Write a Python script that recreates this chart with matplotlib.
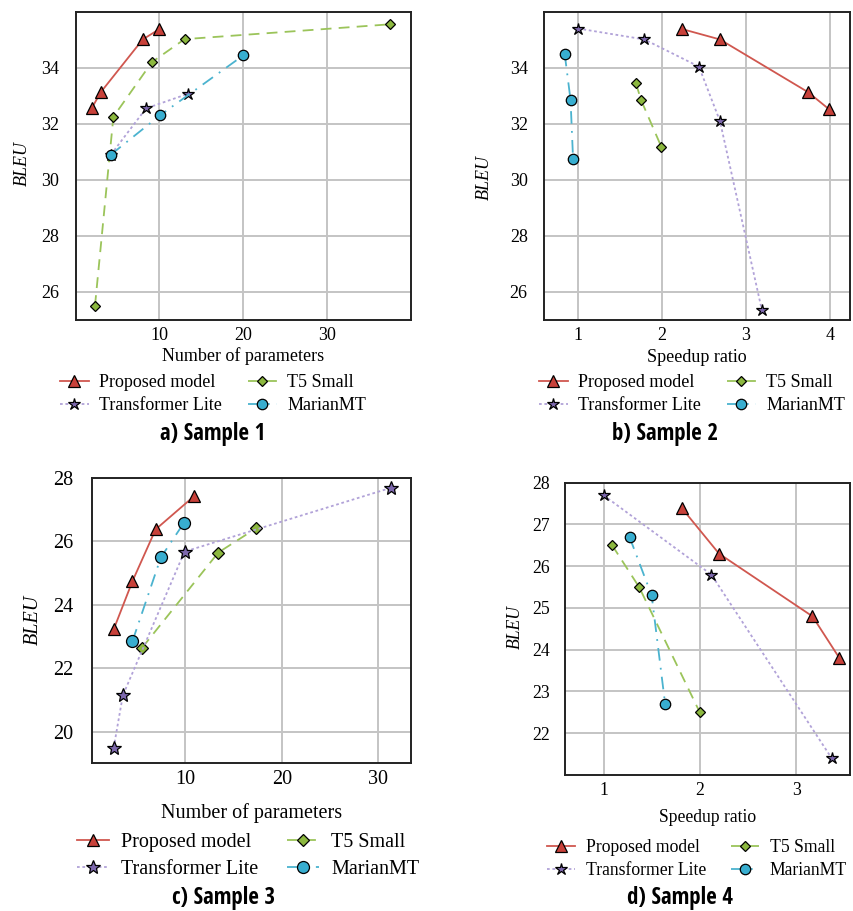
import matplotlib
matplotlib.use("Agg")
from matplotlib import pyplot as plt
from matplotlib import font_manager

plt.rcParams['font.family'] = ['Liberation Serif', 'DejaVu Serif']

# 数据
names = ["Proposed model", "T5 Small", "Transformer Lite", "MarianMT"]

# a) Sample 1: 参数量 vs BLEU
a_prop_x = [1.9, 3.0, 8.0, 10.0]
a_prop_y = [32.55, 33.13, 35.01, 35.38]
a_t5_x = [2.3, 4.5, 9.1, 13.0, 37.5]
a_t5_y = [25.5, 32.25, 34.2, 35.02, 35.55]
a_tl_x = [4.2, 8.4, 13.4]
a_tl_y = [30.9, 32.55, 33.07]
a_mm_x = [4.2, 10.1, 20.0]
a_mm_y = [30.9, 32.31, 34.44]

# b) Sample 2: 加速比 vs BLEU
b_prop_x = [2.24, 2.69, 3.74, 3.99]
b_prop_y = [35.38, 35.01, 33.13, 32.52]
b_t5_x = [1.69, 1.75, 1.99]
b_t5_y = [33.44, 32.85, 31.19]
b_tl_x = [1.0, 1.79, 2.44, 2.69, 3.19]
b_tl_y = [35.4, 35.01, 34.04, 32.1, 25.35]
b_mm_x = [0.84, 0.91, 0.94]
b_mm_y = [34.5, 32.85, 30.74]

# c) Sample 3
c_prop_x = [2.55, 4.5, 6.9, 10.9]
c_prop_y = [23.22, 24.74, 26.37, 27.42]
c_t5_x = [5.5, 13.4, 17.3]
c_t5_y = [22.64, 25.64, 26.4]
c_tl_x = [2.55, 3.5, 9.9, 31.3]
c_tl_y = [19.49, 21.14, 25.67, 27.68]
c_mm_x = [4.5, 7.45, 9.8]
c_mm_y = [22.85, 25.49, 26.56]

# d) Sample 4
d_prop_x = [1.81, 2.2, 3.17, 3.45]
d_prop_y = [27.4, 26.3, 24.8, 23.8]
d_t5_x = [1.09, 1.37, 2.0]
d_t5_y = [26.5, 25.5, 22.5]
d_tl_x = [1.0, 2.12, 3.37]
d_tl_y = [27.7, 25.8, 21.4]
d_mm_x = [1.27, 1.5, 1.64]
d_mm_y = [26.7, 25.3, 22.7]

W, H = 854, 911

styles = [
    dict(color="#d0574f", ls="-", marker="^", mfc="#c8413a", ms=8),
    dict(color="#9bc45a", ls=(0, (6, 4)), marker="D", mfc="#8cb83f", ms=5.5),
    dict(color="#b1a2d8", ls=(0, (1.5, 1.5)), marker="*", mfc="#7d68ad", ms=9),
    dict(color="#4bb3cf", ls=(0, (7, 4, 1, 4)), marker="o", mfc="#38aed0", ms=7.5),
]

# 标题用窄体粗字 (找得到就用)
installed = {f.name for f in font_manager.fontManager.ttflist}
cap_fams = [f for f in ["Liberation Sans Narrow", "DejaVu Sans Condensed",
                        "Noto Sans Condensed", "Open Sans Condensed",
                        "Roboto Condensed"] if f in installed]
cap_fams.append("DejaVu Sans")


def box(l, t, r, b):
    return [l / W, 1 - b / H, (r - l) / W, (b - t) / H]


fig = plt.figure(figsize=(8.54, 9.11), dpi=100)


def panel(rect, series, xlim, ylim, xticks, yticks, xlabel, caption,
          fs, ypad, ylab_xy, xlab_y, leg_xy, cap_xy, scale=1.0):
    ax = fig.add_axes(box(*rect))
    for (xs, ys), st, nm in zip(series, styles, names):
        ax.plot(xs, ys, color=st["color"], linestyle=st["ls"], linewidth=1.3,
                marker=st["marker"], markerfacecolor=st["mfc"],
                markeredgecolor="black", markeredgewidth=0.9,
                markersize=st["ms"] * scale, label=nm, zorder=3)
    ax.set_xlim(xlim)
    ax.set_ylim(ylim)
    ax.set_xticks(xticks)
    ax.set_yticks(yticks)
    ax.grid(color="#c4c4c4", linewidth=1.4)
    ax.set_axisbelow(True)
    ax.tick_params(axis="x", length=0, labelsize=fs, pad=5)
    ax.tick_params(axis="y", length=0, labelsize=fs, pad=ypad)
    for sp in ax.spines.values():
        sp.set_linewidth(1.4)
        sp.set_color("#222222")
    fig.text(ylab_xy[0] / W, 1 - ylab_xy[1] / H, "BLEU", rotation=90,
             style="italic", fontsize=fs, ha="center", va="center")
    cx = (rect[0] + rect[2]) / 2
    fig.text(cx / W, 1 - xlab_y / H, xlabel, fontsize=fs,
             ha="center", va="center")
    h, lb = ax.get_legend_handles_labels()
    order = [0, 2, 1, 3]
    fig.legend([h[i] for i in order], [lb[i] for i in order], ncol=2,
               loc="center",
               bbox_to_anchor=(leg_xy[0] / W, 1 - leg_xy[1] / H),
               frameon=False, fontsize=fs, handlelength=1.6,
               columnspacing=1.4, labelspacing=0.35, handletextpad=0.6,
               borderpad=0, borderaxespad=0)
    fig.text(cap_xy[0] / W, 1 - cap_xy[1] / H, caption, fontsize=16.5,
             fontweight="bold", fontstretch="condensed",
             family=cap_fams, ha="center", va="center")
    return ax


panel((75.7, 11.7, 410.7, 320),
      [(a_prop_x, a_prop_y), (a_t5_x, a_t5_y), (a_tl_x, a_tl_y), (a_mm_x, a_mm_y)],
      (0, 40), (25, 36), [10, 20, 30], [26, 28, 30, 32, 34],
      "Number of parameters", "a) Sample 1", 13, 12,
      (22, 163), 356, (213, 394), (213, 434))

panel((543.7, 11.7, 850, 320),
      [(b_prop_x, b_prop_y), (b_t5_x, b_t5_y), (b_tl_x, b_tl_y), (b_mm_x, b_mm_y)],
      (0.59, 4.24), (25, 36), [1, 2, 3, 4], [26, 28, 30, 32, 34],
      "Speedup ratio", "b) Sample 2", 13, 11.5,
      (484, 177), 357, (692, 394), (665, 434))

panel((92, 477.7, 411, 763.3),
      [(c_prop_x, c_prop_y), (c_t5_x, c_t5_y), (c_tl_x, c_tl_y), (c_mm_x, c_mm_y)],
      (0.3, 33.4), (19, 28), [10, 20, 30], [20, 22, 24, 26, 28],
      "Number of parameters", "c) Sample 3", 14.5, 13.5,
      (33, 620), 813, (248, 856), (224, 898), scale=1.15)

panel((565, 482.7, 850, 775),
      [(d_prop_x, d_prop_y), (d_t5_x, d_t5_y), (d_tl_x, d_tl_y), (d_mm_x, d_mm_y)],
      (0.6, 3.56), (21, 28), [1, 2, 3], [22, 23, 24, 25, 26, 27, 28],
      "Speedup ratio", "d) Sample 4", 12.7, 11,
      (515, 627), 817, (697, 859), (680, 898))

plt.savefig("out.png", dpi=100)
